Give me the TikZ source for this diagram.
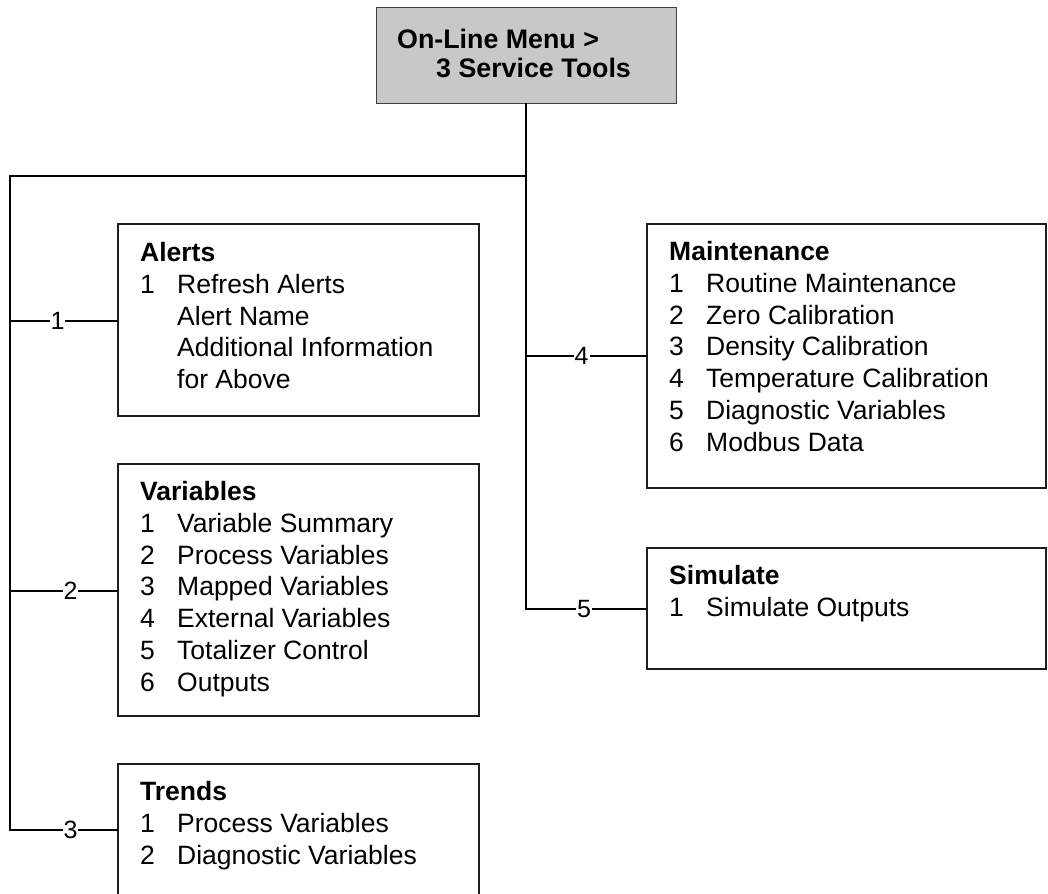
\documentclass[tikz,border=0pt]{standalone}
\usepackage{fontspec}
\setmainfont{Liberation Sans}
\definecolor{topfill}{RGB}{200,200,200}
\definecolor{edge}{RGB}{30,30,30}
\begin{document}
\begin{tikzpicture}[x=1pt,y=-1pt,
  trunk/.style={line width=2pt, line cap=rect, draw=black},
  branch/.style={line width=1.3pt, draw=black},
  menubox/.style={draw=edge, line width=1.3pt, anchor=north west, inner sep=0pt, outer sep=0pt},
  topbox/.style={draw=black!75, fill=topfill, line width=1pt, anchor=north west, inner sep=0pt, outer sep=0pt},
  menutext/.style={anchor=north west, inner sep=0pt, align=left, font=\fontsize{26.5}{31.8}\selectfont},
  toptext/.style={anchor=north west, inner sep=0pt, align=left, font=\fontsize{26.8}{29}\selectfont\bfseries},
  num/.style={fill=white, inner sep=1pt, font=\fontsize{25}{25}\selectfont}
]
\useasboundingbox (0,0) rectangle (1048,893);

% top box
\node[topbox, minimum width=300pt, minimum height=96pt] (top) at (376,8) {};
\node[toptext] (topT) at (397,29) {On-Line Menu >\\\hspace*{39pt}3 Service Tools};

% boxes
\node[menubox, minimum width=361pt, minimum height=192pt] (alerts) at (118,224) {};
\node[menubox, minimum width=361pt, minimum height=252pt] (vars) at (118,464) {};
\node[menubox, minimum width=361pt, minimum height=140pt] (trends) at (118,764) {};
\node[menubox, minimum width=399pt, minimum height=264pt] (maint) at (647,224) {};
\node[menubox, minimum width=399pt, minimum height=121pt] (sim) at (647,548) {};

% texts
\node[menutext] (alertsT) at (140,242) {\textbf{Alerts}\\
\makebox[37pt][l]{1}Refresh Alerts\\
\hspace*{37pt}Alert Name\\
\hspace*{37pt}Additional Information\\
\hspace*{37pt}for Above};
\node[menutext] (varsT) at (140,481) {\textbf{Variables}\\
\makebox[37pt][l]{1}Variable Summary\\
\makebox[37pt][l]{2}Process Variables\\
\makebox[37pt][l]{3}Mapped Variables\\
\makebox[37pt][l]{4}External Variables\\
\makebox[37pt][l]{5}Totalizer Control\\
\makebox[37pt][l]{6}Outputs};
\node[menutext] (trendsT) at (140,781) {\textbf{Trends}\\
\makebox[37pt][l]{1}Process Variables\\
\makebox[37pt][l]{2}Diagnostic Variables};
\node[menutext] (maintT) at (669,241) {\textbf{Maintenance}\\
\makebox[37pt][l]{1}Routine Maintenance\\
\makebox[37pt][l]{2}Zero Calibration\\
\makebox[37pt][l]{3}Density Calibration\\
\makebox[37pt][l]{4}Temperature Calibration\\
\makebox[37pt][l]{5}Diagnostic Variables\\
\makebox[37pt][l]{6}Modbus Data};
\node[menutext] (simT) at (669,565) {\textbf{Simulate}\\
\makebox[37pt][l]{1}Simulate Outputs};

% trunk lines
\coordinate (J) at (526,176);
\coordinate (L) at (10,176);
\coordinate (c1) at (10,321);
\coordinate (c2) at (10,591);
\coordinate (c3) at (10,830);
\coordinate (c4) at (526,356);
\coordinate (c5) at (526,609);

\draw[trunk] (top.south) -- (J);
\draw[trunk] (J) -- (L) -- (c3);
\draw[trunk] (J) -- (c5);

% branches
\draw[branch] (c1) -- node[num, pos=0.44] (n1) {1} (c1 -| alerts.west);
\draw[branch] (c2) -- node[num, pos=0.56] (n2) {2} (c2 -| vars.west);
\draw[branch] (c3) -- node[num, pos=0.56] (n3) {3} (c3 -| trends.west);
\draw[branch] (c4) -- node[num, pos=0.46] (n4) {4} (c4 -| maint.west);
\draw[branch] (c5) -- node[num, pos=0.48] (n5) {5} (c5 -| sim.west);
\end{tikzpicture}
\end{document}
